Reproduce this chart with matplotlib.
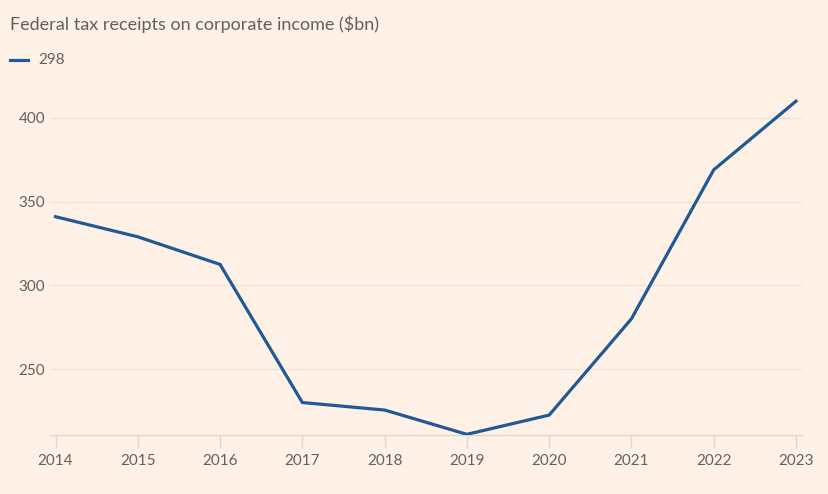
import matplotlib
matplotlib.use("Agg")
import matplotlib.pyplot as plt

# data
years = [2014, 2015, 2016, 2017, 2018, 2019, 2020, 2021, 2022, 2023]
receipts = [341, 329, 312.5, 230, 225.5, 211, 222.5, 280, 369, 410]
y_ticks = [250, 300, 350, 400]
series_name = "298"
title = "Federal tax receipts on corporate income ($bn)"

BG = "#FFF1E5"
LINE = "#1F5A96"
TEXT = "#66605C"
GRID = "#F0E4DA"
AXIS = "#E2D6CC"

plt.rcParams['font.family'] = ['Lato', 'DejaVu Sans']

W, H = 829, 494
fig = plt.figure(figsize=(W / 100, H / 100), dpi=100, facecolor=BG)

# axes box in pixel coords: left 50, right 802, top 95, bottom 435
left, right, top, bottom = 50, 802, 95, 435
ax = fig.add_axes([left / W, 1 - bottom / H, (right - left) / W, (bottom - top) / H])
ax.set_facecolor(BG)

ax.plot(years, receipts, color=LINE, linewidth=2.3, solid_joinstyle='miter', zorder=3)

ax.set_xlim(2013.933, 2023.073)
ax.set_ylim(210.6, 413.7)

ax.set_xticks(years)
ax.set_xticklabels([str(y) for y in years])
ax.set_yticks(y_ticks)
ax.set_yticklabels([str(v) for v in y_ticks])

for s in ['top', 'right', 'left']:
    ax.spines[s].set_visible(False)
ax.spines['bottom'].set_color(AXIS)
ax.spines['bottom'].set_linewidth(1.0)

ax.grid(True, axis='y', color=GRID, linewidth=1.0, zorder=0)
ax.tick_params(axis='x', length=9.5, width=1.0, color=AXIS, pad=4,
               labelsize=11, labelcolor=TEXT)
ax.tick_params(axis='y', length=0, pad=3.6, labelsize=11, labelcolor=TEXT)

# title and legend
fig.text(10 / W, 1 - 24 / H, title, ha='left', va='center',
         fontsize=13, color=TEXT)
fig.add_artist(plt.Line2D([10 / W, 28 / W], [1 - 60 / H, 1 - 60 / H],
                          color=LINE, linewidth=2.3, transform=fig.transFigure))
fig.text(38 / W, 1 - 60 / H, series_name, ha='left', va='center',
         fontsize=11, color=TEXT)

fig.savefig("out.png", dpi=100, facecolor=BG)
